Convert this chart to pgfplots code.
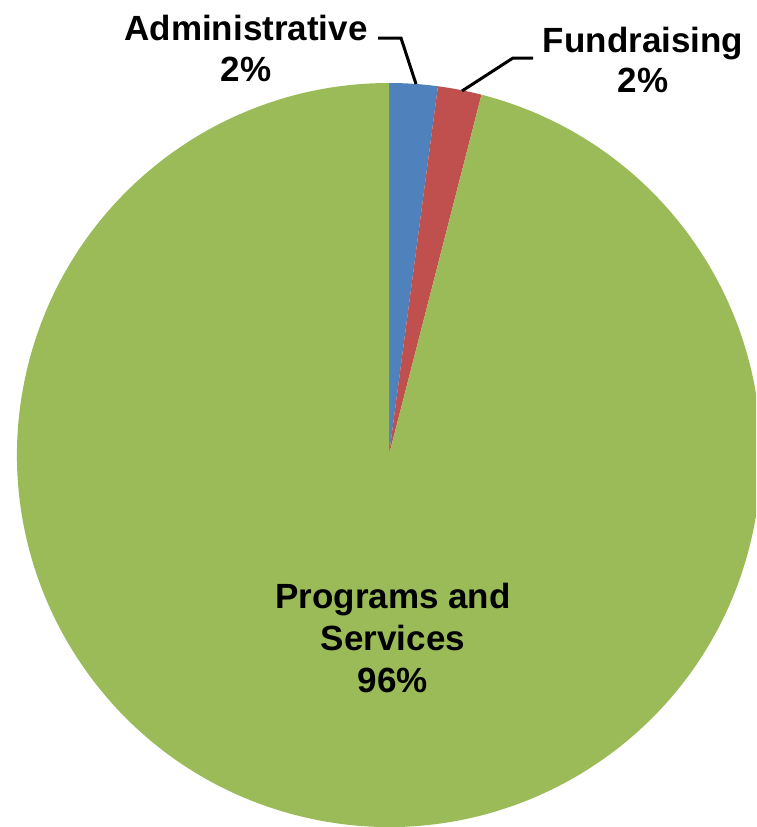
\documentclass[border=0pt]{standalone}
\usepackage{fontspec}
\setmainfont{Liberation Sans}
\usepackage{pgfplots}
\usepackage{pgfplotstable}
\pgfplotsset{compat=1.18}
\definecolor{adminBlue}{HTML}{4F81BD}
\definecolor{fundRed}{HTML}{C0504D}
\definecolor{progGreen}{HTML}{9BBB59}

% share of expenses, percent
\pgfplotstableread{
category value
Administrative 2.1
Fundraising 1.9
Programs 96.0
}\expenses

\pgfplotstablegetelem{0}{value}\of\expenses \let\vAdmin\pgfplotsretval
\pgfplotstablegetelem{1}{value}\of\expenses \let\vFund\pgfplotsretval
\pgfplotstablegetelem{2}{value}\of\expenses \let\vProg\pgfplotsretval
% slices run clockwise from 12 o'clock
\pgfmathsetmacro{\aA}{90-3.6*\vAdmin}
\pgfmathsetmacro{\aB}{\aA-3.6*\vFund}
\pgfmathsetmacro{\aC}{\aB-3.6*\vProg}

\begin{document}
\begin{tikzpicture}
\begin{axis}[
    name=ax,
    width=756pt, height=827pt,
    scale only axis,
    xmin=0, xmax=756,
    ymin=0, ymax=827,
    y dir=reverse,
    hide axis,
    clip=true,
    ]
    \def\r{372pt}
    \fill[adminBlue] (axis cs:389,455) -- +(90:\r) arc[start angle=90, end angle=\aA, radius=\r] -- cycle;
    \fill[fundRed] (axis cs:389,455) -- +(\aA:\r) arc[start angle=\aA, end angle=\aB, radius=\r] -- cycle;
    \fill[progGreen] (axis cs:389,455) -- +(\aB:\r) arc[start angle=\aB, end angle=\aC, radius=\r] -- cycle;

    % leader lines
    \draw[line width=3pt] (axis cs:378,38) -- (axis cs:401,38) -- (axis cs:416,84);
    \draw[line width=3pt] (axis cs:533,58) -- (axis cs:513,58) -- (axis cs:462,91);

    \begin{scope}[every node/.style={font=\bfseries\fontsize{35}{41}\selectfont, anchor=base, inner sep=0pt}]
    \node at (axis cs:246,40) {Administrative};
    \node at (axis cs:246,81) {2\%};
    \node at (axis cs:643,52) {Fundraising};
    \node at (axis cs:643,92) {2\%};
    \node at (axis cs:393,608) {Programs and};
    \node at (axis cs:393,650) {Services};
    \node at (axis cs:393,692) {96\%};
    \end{scope}
\end{axis}
\pgfresetboundingbox
\useasboundingbox (ax.south west) rectangle (ax.north east);
\end{tikzpicture}
\end{document}
